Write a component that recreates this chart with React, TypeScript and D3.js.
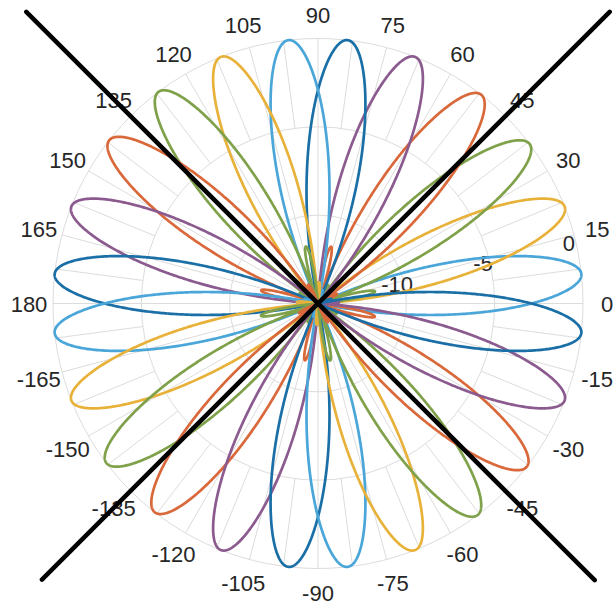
import React from 'react';
import * as d3 from 'd3';

// ---- data ----
const beamOffsets = [6.4, 21.5, 37, 52, 68.5, 83.6]; // beam directions within each 90° sector (deg)
const beamColors = ['#4aa6d9', '#e8b23a', '#7fa14a', '#d9683a', '#8b5a8e', '#1a6fa6'];
// side-lobe peak above the -15 dB floor, toward lower / higher angles (dB)
const sideLobeLow = [0.8, 1.2, 3.3, 1.2, 1.0, 0.6];
const sideLobeHigh = [0.6, 1.0, 1.2, 3.3, 1.2, 0.8];
const sectorStarts = [0, 90, 180, 270];
const mainLobeSlope = 1.3; // dB per degree far from the peak
const mainLobeRound = 8; // degrees, rounding of the peak
const sideLobeStart = 18; // deg
const sideLobeWidth = 14; // deg
const rDomain = [-15, 0];
const rTicks = [-10, -5, 0];
const rTickLabels = ['-10', '-5', '0'];
const thetaTicks = [0, 15, 30, 45, 60, 75, 90, 105, 120, 135, 150, 165, 180, 195, 210, 225, 240, 255, 270, 285, 300, 315, 330, 345];
const thetaTickLabels = ['0', '15', '30', '45', '60', '75', '90', '105', '120', '135', '150', '165', '180', '-165', '-150', '-135', '-120', '-105', '-90', '-75', '-60', '-45', '-30', '-15'];
const blackLineAngles = [45, 135, 225, 315];
const blackLineReach = [8.35, 8.35, 7.1, 7.15]; // in dB units beyond rlim

const W = 614, H = 607;
const CX = 318, CY = 303.5, R = 265;
const FONT = '"Liberation Sans", Arial, sans-serif';

function patternDb(deltaDeg: number, lowH: number, highH: number): number {
  const s = (((deltaDeg + 180) % 360) + 360) % 360 - 180;
  const d = Math.abs(s);
  const main = -mainLobeSlope * (Math.sqrt(d * d + mainLobeRound * mainLobeRound) - mainLobeRound);
  let side = rDomain[0];
  if (d >= sideLobeStart && d <= sideLobeStart + sideLobeWidth) {
    const h = s < 0 ? lowH : highH;
    side = rDomain[0] + h * Math.sin((Math.PI * (d - sideLobeStart)) / sideLobeWidth);
  }
  return Math.max(main, side, rDomain[0]);
}

export default function App() {
  const r = d3.scaleLinear().domain(rDomain).range([0, R]);
  const rad = (deg: number) => (deg * Math.PI) / 180;
  const px = (deg: number, rr: number) => CX + rr * Math.cos(rad(deg));
  const py = (deg: number, rr: number) => CY - rr * Math.sin(rad(deg));

  const beams: { angle: number; color: string; lo: number; hi: number }[] = [];
  sectorStarts.forEach((s) =>
    beamOffsets.forEach((o, i) =>
      beams.push({ angle: s + o, color: beamColors[i], lo: sideLobeLow[i], hi: sideLobeHigh[i] })
    )
  );

  const line = d3
    .lineRadial<[number, number]>()
    .angle((d) => Math.PI / 2 - rad(d[0]))
    .radius((d) => r(d[1]))
    .curve(d3.curveLinearClosed);

  const deltas = d3.range(-60, 60.0001, 0.1);

  const minorAngles = thetaTicks.map((t) => t + 7.5);
  const rLabelAngle = 13.5;

  return (
    <svg width={W} height={H} style={{ position: 'absolute', left: 0, top: 0, background: '#fff' }} fontFamily={FONT}>
      <rect x={0} y={0} width={W} height={H} fill="#fff" />
      {/* grid */}
      <g stroke="#dcdcdc" strokeWidth={1} fill="none">
        {rTicks.map((t) => (
          <circle key={'c' + t} cx={CX} cy={CY} r={r(t)} />
        ))}
        {thetaTicks.map((t) => (
          <line key={'m' + t} x1={CX} y1={CY} x2={px(t, R)} y2={py(t, R)} />
        ))}
        {minorAngles.map((t) => (
          <line key={'n' + t} x1={px(t, r(-5))} y1={py(t, r(-5))} x2={px(t, R)} y2={py(t, R)} />
        ))}
      </g>
      {/* labels */}
      <g fill="#262626" fontSize={22} textAnchor="middle">
        {thetaTicks.map((t, i) => (
          <text key={'tl' + t} x={px(t, 289)} y={py(t, 289) + 1} dominantBaseline="central">
            {thetaTickLabels[i]}
          </text>
        ))}
        {rTicks.map((t, i) => (
          <text key={'rl' + t} x={px(rLabelAngle, r(t) - 7)} y={py(rLabelAngle, r(t) - 7)} dominantBaseline="central">
            {rTickLabels[i]}
          </text>
        ))}
      </g>
      {/* beams */}
      <g transform={`translate(${CX},${CY})`} fill="none" strokeWidth={2.7} strokeLinejoin="round">
        {beams.map((b, i) => {
          const pts: [number, number][] = deltas.map((d) => [b.angle + d, patternDb(d, b.lo, b.hi)]);
          return <path key={'b' + i} d={line(pts) || ''} stroke={b.color} />;
        })}
      </g>
      {/* black diagonal lines */}
      <g stroke="#000" strokeWidth={4.5} strokeLinecap="round">
        {[0, 1].map((k) => {
          const a1 = blackLineAngles[k], a2 = blackLineAngles[k + 2];
          const r1 = r(blackLineReach[k]), r2 = r(blackLineReach[k + 2]);
          return <line key={'bl' + k} x1={px(a1, r1)} y1={py(a1, r1)} x2={px(a2, r2)} y2={py(a2, r2)} />;
        })}
      </g>
    </svg>
  );
}
